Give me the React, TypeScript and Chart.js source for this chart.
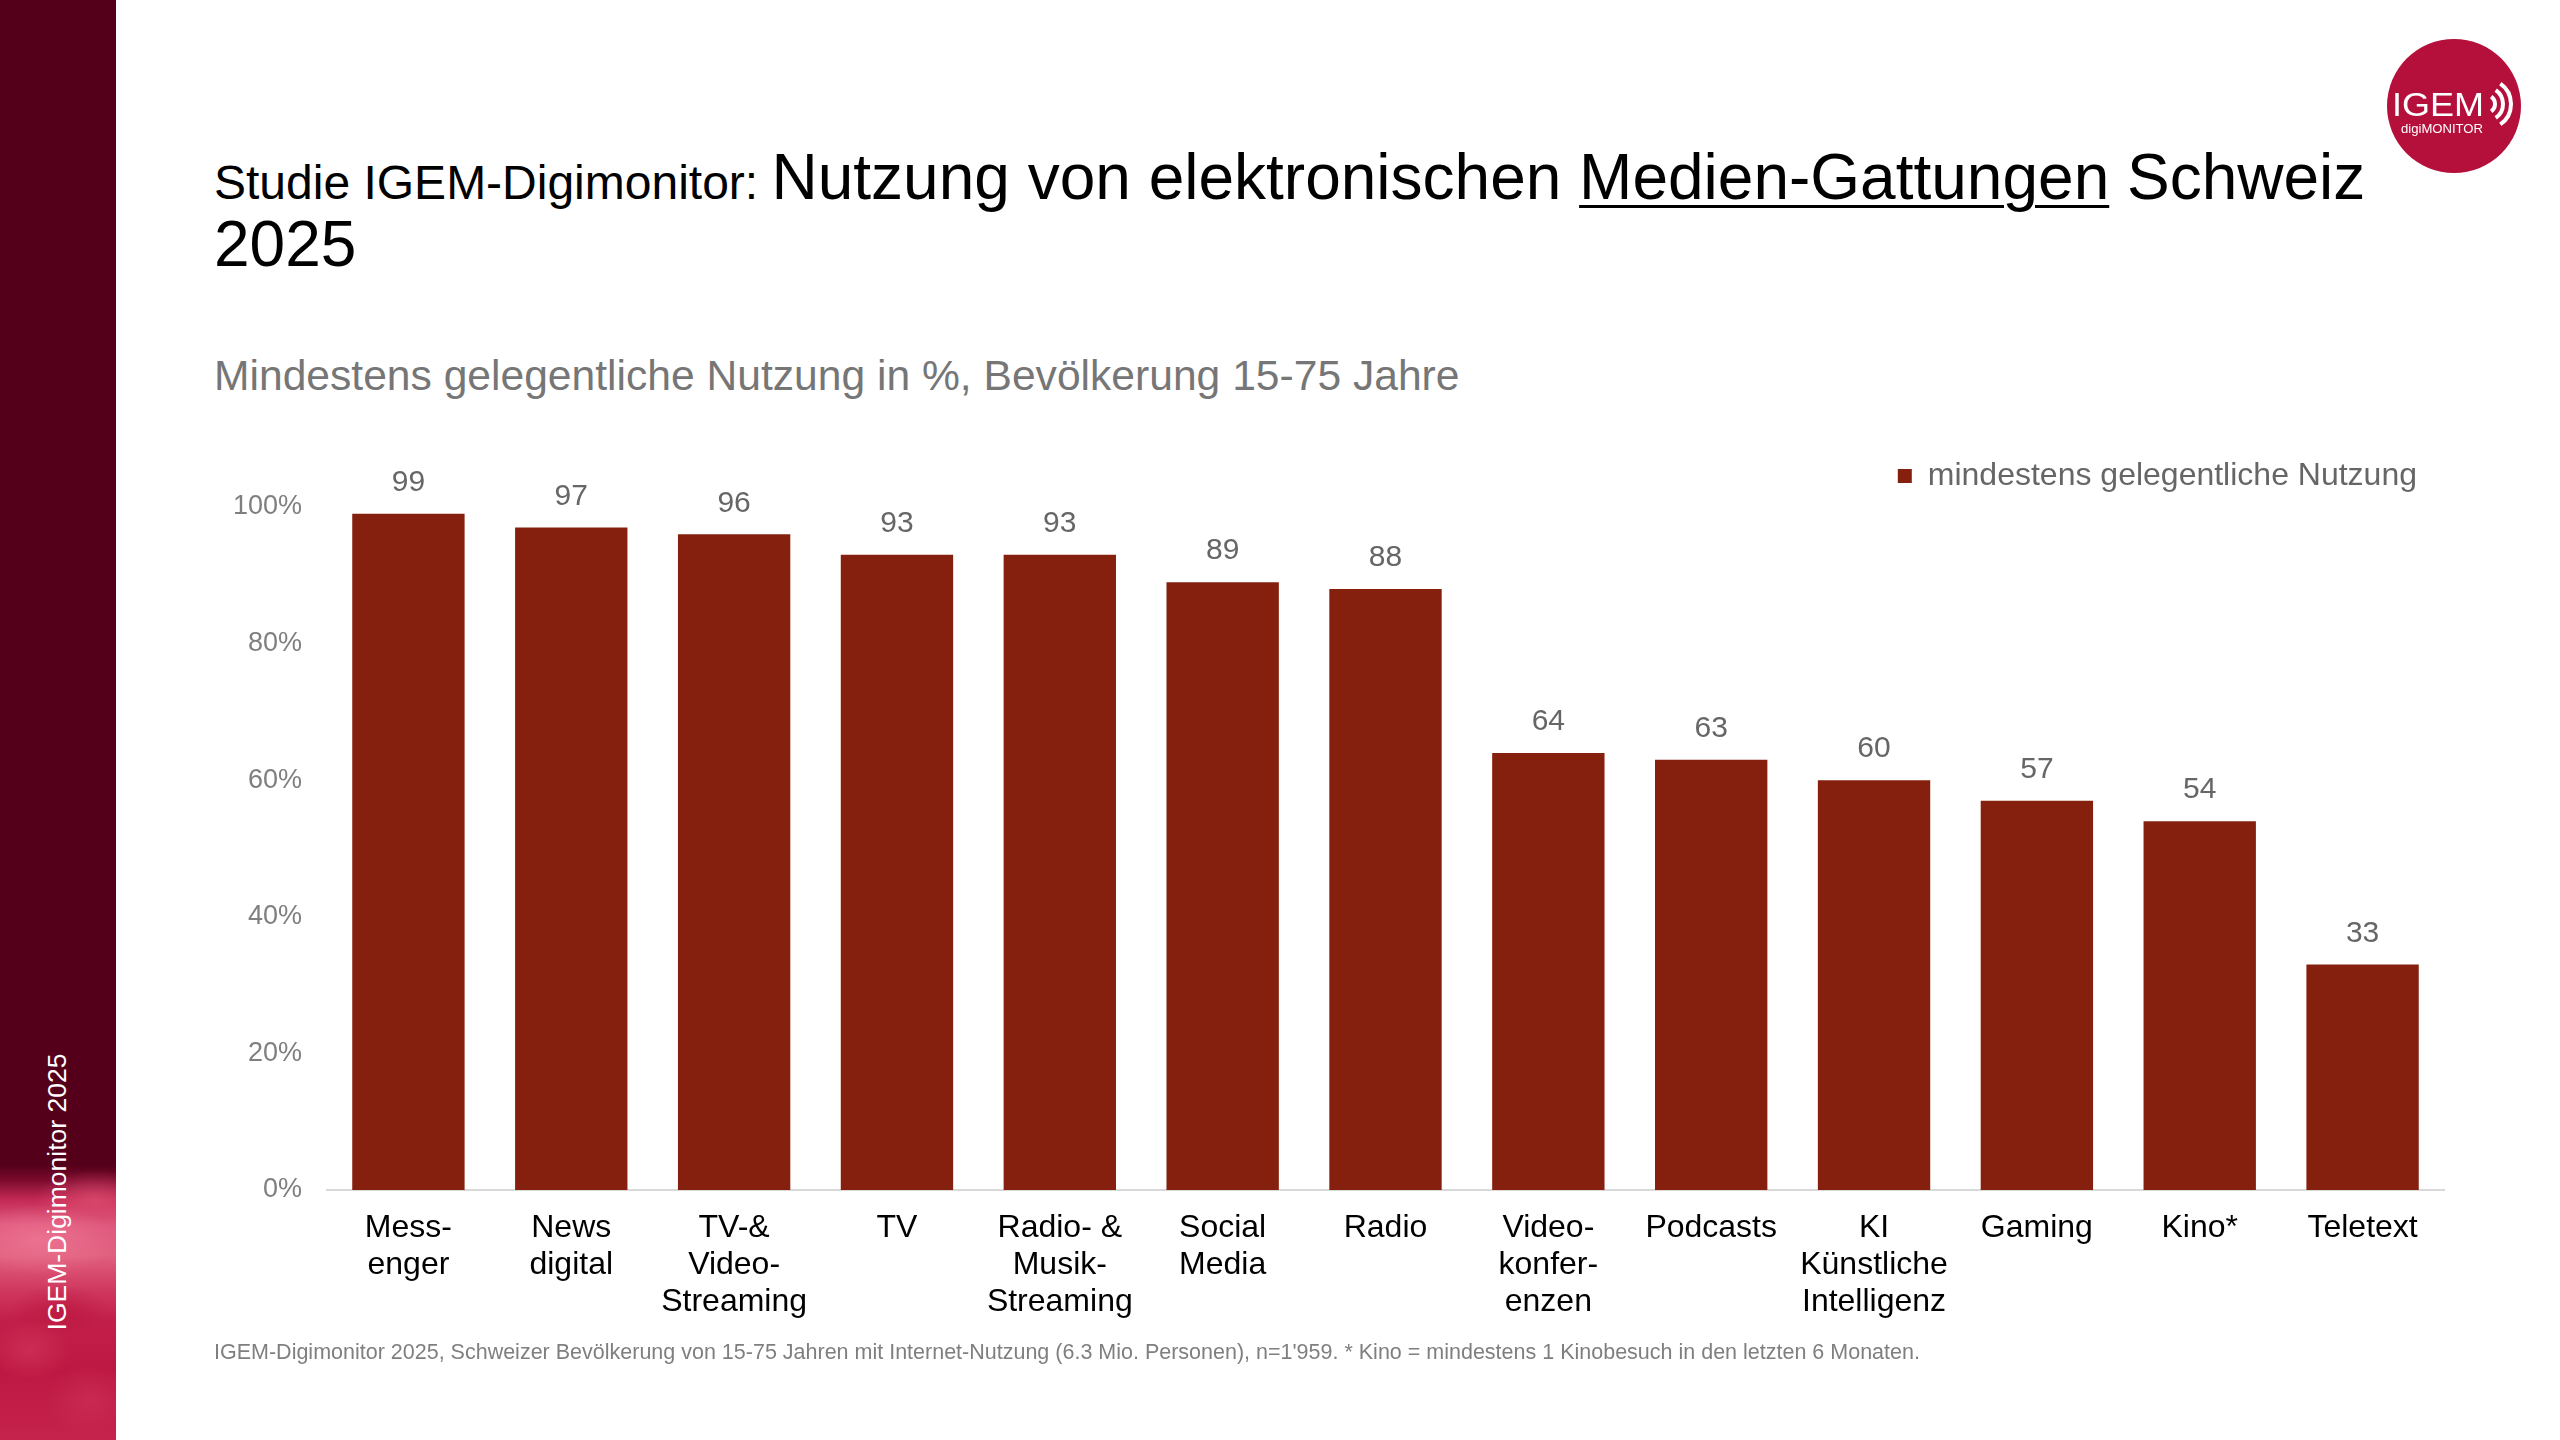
import React, { useEffect, useRef } from "react";
import { Chart, registerables } from "chart.js";

Chart.register(...registerables);

const categories: string[][] = [
  ["Mess-", "enger"],
  ["News", "digital"],
  ["TV-&", "Video-", "Streaming"],
  ["TV"],
  ["Radio- &", "Musik-", "Streaming"],
  ["Social", "Media"],
  ["Radio"],
  ["Video-", "konfer-", "enzen"],
  ["Podcasts"],
  ["KI", "Künstliche", "Intelligenz"],
  ["Gaming"],
  ["Kino*"],
  ["Teletext"],
];
const values: number[] = [99, 97, 96, 93, 93, 89, 88, 64, 63, 60, 57, 54, 33];
const yTickStep = 20;
const yMax = 100;
const seriesLabel = "mindestens gelegentliche Nutzung";

const FONT = "'Liberation Sans', Arial, Helvetica, sans-serif";
const BAR = "#85200e";

const valueLabels = {
  id: "valueLabels",
  afterDatasetsDraw(chart: any) {
    const { ctx } = chart;
    const meta = chart.getDatasetMeta(0);
    ctx.save();
    ctx.font = `30px ${FONT}`;
    ctx.fillStyle = "#666666";
    ctx.textAlign = "center";
    ctx.textBaseline = "middle";
    meta.data.forEach((el: any, i: number) => {
      const v = chart.data.datasets[0].data[i];
      ctx.fillText(String(v), el.x, el.y - 31);
    });
    ctx.restore();
  },
};

function BarChart() {
  const ref = useRef<HTMLCanvasElement | null>(null);
  useEffect(() => {
    if (!ref.current) return;
    const chart = new Chart(ref.current, {
      type: "bar",
      data: {
        labels: categories,
        datasets: [
          {
            label: seriesLabel,
            data: values,
            backgroundColor: BAR,
            borderWidth: 0,
            barPercentage: 0.69,
            categoryPercentage: 1.0,
          },
        ],
      },
      options: {
        animation: false,
        responsive: false,
        events: [],
        layout: { padding: { left: 130, right: 116, top: 433, bottom: 100 } },
        plugins: {
          tooltip: { enabled: false },
          title: {
            display: true,
            text: "",
            position: "top",
            weight: 500,
            padding: 0,
            font: { size: 5, lineHeight: 1 },
          },
          legend: {
            display: true,
            position: "top",
            align: "end",
            labels: {
              color: "#666666",
              font: { family: FONT, size: 32 },
              boxWidth: 14,
              boxHeight: 14,
              padding: 27,
            },
          },
        },
        scales: {
          x: {
            grid: { display: false, drawTicks: false },
            border: { display: true, color: "#d9d9d9", width: 2 },
            ticks: {
              color: "#000000",
              font: { family: FONT, size: 32, lineHeight: 1.17 },
              padding: 19,
              autoSkip: false,
              maxRotation: 0,
              minRotation: 0,
            },
            afterFit: (scale: any) => {
              scale.height = 150;
            },
          },
          y: {
            min: 0,
            max: yMax,
            grid: { display: false, drawTicks: false },
            border: { display: false },
            ticks: {
              stepSize: yTickStep,
              color: "#7f7f7f",
              font: { family: FONT, size: 27 },
              padding: 25,
              callback: (v: any) => `${v}%`,
            },
            afterFit: (scale: any) => {
              scale.width = 197;
            },
          },
        },
      },
      plugins: [valueLabels],
    } as any);
    return () => chart.destroy();
  }, []);
  return (
    <canvas
      ref={ref}
      width={2560}
      height={1440}
      style={{ position: "absolute", left: 0, top: 0, width: 2560, height: 1440 }}
    />
  );
}

function Logo() {
  const arc = (r: number) => {
    const a = (55 * Math.PI) / 180;
    const ox = 102;
    const oy = 68;
    const x1 = ox + r * Math.cos(-a);
    const y1 = oy + r * Math.sin(-a);
    const x2 = ox + r * Math.cos(a);
    const y2 = oy + r * Math.sin(a);
    return `M ${x1} ${y1} A ${r} ${r} 0 0 1 ${x2} ${y2}`;
  };
  return (
    <svg
      width={140}
      height={140}
      style={{ position: "absolute", left: 2384, top: 36 }}
      viewBox="0 0 140 140"
    >
      <circle cx={70} cy={70} r={67} fill="#b5103c" />
      <text
        x={8}
        y={80}
        fill="#ffffff"
        fontFamily={FONT}
        fontSize={34}
        textLength={92}
        lengthAdjust="spacingAndGlyphs"
      >
        IGEM
      </text>
      <path d={arc(9)} stroke="#fff" strokeWidth={4} fill="none" />
      <path d={arc(17)} stroke="#fff" strokeWidth={4} fill="none" />
      <path d={arc(25)} stroke="#fff" strokeWidth={4} fill="none" />
      <text
        x={17}
        y={97}
        fill="#ffffff"
        fontFamily={FONT}
        fontSize={13}
        textLength={82}
        lengthAdjust="spacingAndGlyphs"
      >
        digiMONITOR
      </text>
    </svg>
  );
}

export default function App() {
  return (
    <div
      style={{
        position: "fixed",
        left: 0,
        top: 0,
        width: 2560,
        height: 1440,
        background: "#ffffff",
        overflow: "hidden",
        fontFamily: FONT,
      }}
    >
      <div
        style={{
          position: "absolute",
          left: 0,
          top: 0,
          width: 116,
          height: 1440,
          background: [
            "radial-gradient(ellipse 80px 35px at 40px 1240px, rgba(240,120,150,0.75), rgba(240,120,150,0))",
            "radial-gradient(ellipse 60px 30px at 95px 1200px, rgba(225,80,115,0.7), rgba(225,80,115,0))",
            "radial-gradient(ellipse 40px 30px at 30px 1350px, rgba(215,60,95,0.55), rgba(215,60,95,0))",
            "radial-gradient(ellipse 45px 35px at 90px 1400px, rgba(210,55,90,0.5), rgba(210,55,90,0))",
            "radial-gradient(ellipse 50px 25px at 60px 1310px, rgba(180,15,55,0.5), rgba(180,15,55,0))",
            "linear-gradient(to bottom, #55001a 0px, #55001a 1165px, #7a0a2d 1180px, #c42a55 1200px, #de587d 1225px, #e0607f 1255px, #d0385f 1290px, #c21f4a 1320px, #bd1843 1370px, #c5224c 1440px)",
          ].join(","),
        }}
      />
      <div
        style={{
          position: "absolute",
          left: 57,
          top: 1192,
          transform: "translate(-50%, -50%) rotate(-90deg)",
          whiteSpace: "nowrap",
          color: "#ffffff",
          fontSize: 26.5,
          lineHeight: "27px",
        }}
      >
        IGEM-Digimonitor 2025
      </div>

      <div
        style={{
          position: "absolute",
          left: 214,
          top: 145,
          whiteSpace: "nowrap",
          color: "#000000",
          fontSize: 64,
          lineHeight: "64px",
        }}
      >
        <span style={{ fontSize: 48 }}>Studie IGEM-Digimonitor: </span>
        Nutzung von elektronischen{" "}
        <span style={{ textDecoration: "underline", textDecorationThickness: 3, textUnderlineOffset: 6 }}>
          Medien-Gattungen
        </span>{" "}
        Schweiz
      </div>
      <div
        style={{
          position: "absolute",
          left: 214,
          top: 212,
          whiteSpace: "nowrap",
          color: "#000000",
          fontSize: 64,
          lineHeight: "64px",
        }}
      >
        2025
      </div>

      <div
        style={{
          position: "absolute",
          left: 214,
          top: 354,
          whiteSpace: "nowrap",
          color: "#767676",
          fontSize: 42.6,
          lineHeight: "43px",
        }}
      >
        Mindestens gelegentliche Nutzung in %, Bevölkerung 15-75 Jahre
      </div>

      <BarChart />

      <div
        style={{
          position: "absolute",
          left: 214,
          top: 1341,
          whiteSpace: "nowrap",
          color: "#7f7f7f",
          fontSize: 21.5,
          lineHeight: "22px",
        }}
      >
        IGEM-Digimonitor 2025, Schweizer Bevölkerung von 15-75 Jahren mit Internet-Nutzung (6.3 Mio. Personen), n=1'959. * Kino = mindestens 1 Kinobesuch in den letzten 6 Monaten.
      </div>

      <Logo />
    </div>
  );
}
